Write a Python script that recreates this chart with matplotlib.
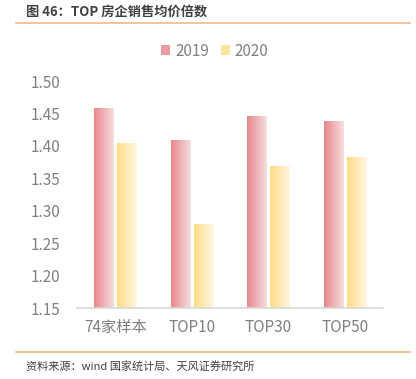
import numpy as np
import matplotlib.pyplot as plt
from matplotlib.colors import LinearSegmentedColormap
from matplotlib.patches import Patch
from matplotlib.lines import Line2D

plt.rcParams['font.family'] = ['Noto Sans CJK SC', 'DejaVu Sans']

# Daten
categories = ['74家样本', 'TOP10', 'TOP30', 'TOP50']
vals_2019 = [1.458, 1.409, 1.446, 1.438]
vals_2020 = [1.404, 1.278, 1.368, 1.382]
series = ['2019', '2020']
yticks = [1.15, 1.20, 1.25, 1.30, 1.35, 1.40, 1.45, 1.50]

# Farbverlauf links dunkel -> rechts hell
cmap_19 = LinearSegmentedColormap.from_list('c19', ['#E8878B', '#F6DEDF'])
cmap_20 = LinearSegmentedColormap.from_list('c20', ['#FFDC85', '#FFF6E2'])

fig = plt.figure(figsize=(4.16, 3.79), dpi=100)
ax = fig.add_axes([77/416, 1 - 308/379, 306/416, 227/379])

x = np.arange(len(categories))
w = 0.25
gap = 0.05
b1 = ax.bar(x - (w + gap)/2, vals_2019, w, color='none', bottom=0)
b2 = ax.bar(x + (w + gap)/2, vals_2020, w, color='none', bottom=0)

grad = np.linspace(0, 1, 64).reshape(1, -1)
for bars, cm in [(b1, cmap_19), (b2, cmap_20)]:
    for p in bars:
        x0 = p.get_x()
        ax.imshow(grad, cmap=cm, aspect='auto', zorder=2,
                  extent=[x0, x0 + p.get_width(), 1.15, p.get_height()])

ax.set_xlim(-0.5, len(categories) - 0.5)
ax.set_ylim(1.15, 1.50)
ax.set_yticks(yticks)
ax.set_yticklabels(['%.2f' % t for t in yticks])
ax.set_xticks(x)
ax.set_xticklabels(categories)
ax.tick_params(axis='both', length=0, labelsize=11, colors='#808080')
ax.tick_params(axis='y', pad=12)
ax.tick_params(axis='x', pad=8)
for s in ['top', 'right', 'left']:
    ax.spines[s].set_visible(False)
ax.spines['bottom'].set_color('#d9d9d9')
ax.spines['bottom'].set_linewidth(1.2)

# Legende
handles = [Patch(facecolor='#EC9DA0', edgecolor='none'),
           Patch(facecolor='#FFE49E', edgecolor='none')]
fig.legend(handles, series, loc='center', bbox_to_anchor=(215/416, 1 - 51/379),
           ncol=2, frameon=False, fontsize=11, handlelength=0.6, handleheight=0.6,
           handletextpad=0.3, columnspacing=0.8, labelcolor='#808080')

# Titel und Quelle
fig.text(26/416, 1 - 12/379, '图 46：TOP 房企销售均价倍数', fontsize=9.5,
         fontweight='bold', color='#404040', va='center', ha='left')
fig.add_artist(Line2D([16/416, 410/416], [1 - 23/379, 1 - 23/379],
                      color='#F5B88A', lw=1.2))
fig.add_artist(Line2D([16/416, 410/416], [1 - 352/379, 1 - 352/379],
                      color='#F5B88A', lw=1.2))
fig.text(26/416, 1 - 366/379, '资料来源：wind 国家统计局、天风证券研究所', fontsize=8,
         color='#404040', va='center', ha='left')

plt.savefig('out.png', dpi=100)
